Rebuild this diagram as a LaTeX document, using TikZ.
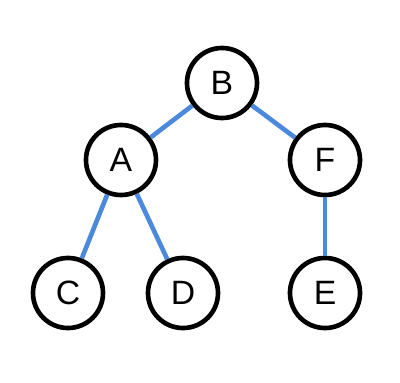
\documentclass[tikz,border=0pt]{standalone}
\usepackage{fontspec}
\setmainfont{Liberation Sans}
\usepackage{tikz}
\usetikzlibrary{positioning}
\definecolor{edgeblue}{HTML}{4A89DC}
\tikzset{
  treenode/.style={circle,draw=black,line width=3.3pt,fill=white,minimum size=1.75cm,inner sep=0pt,font=\fontsize{24}{28}\selectfont},
  treeedge/.style={edgeblue,line width=3.3pt}
}

\begin{document}
\begin{tikzpicture}[x=0.025cm,y=-0.025cm]
        \useasboundingbox (0,0) rectangle (400,382);
        \node[treenode] (B) at (222,83) {B};
        \node[treenode] (A) at (121,160) {A};
        \node[treenode] (F) at (325,160) {F};
        \node[treenode] (C) at (68,293) {C};
        \node[treenode] (D) at (183,293) {D};
        \node[treenode] (E) at (325,293) {E};
        \draw[treeedge] (B) -- (A);
        \draw[treeedge] (B) -- (F);
        \draw[treeedge] (A) -- (C);
        \draw[treeedge] (A) -- (D);
        \draw[treeedge] (F) -- (E);
      \end{tikzpicture}
\end{document}
